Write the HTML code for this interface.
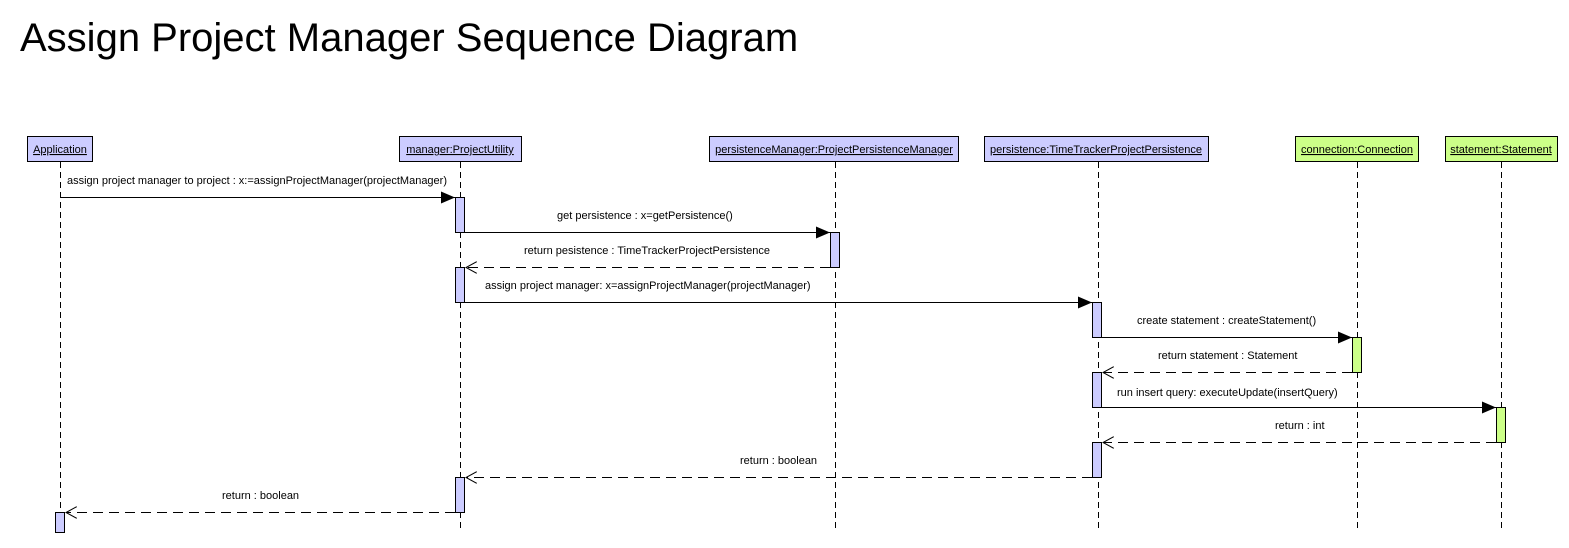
<!DOCTYPE html>
<html><head><meta charset="utf-8"><style>
body{margin:0;background:#fff;width:1569px;height:543px;overflow:hidden;font-family:"Liberation Sans",sans-serif}
</style></head><body>
<svg width="1569" height="543" xmlns="http://www.w3.org/2000/svg" font-family="Liberation Sans, sans-serif">
<defs>
<marker id="f" markerWidth="14" markerHeight="12" refX="14" refY="6" orient="auto" markerUnits="userSpaceOnUse"><path d="M0,0 L14,6 L0,12 z" fill="#000"/></marker>
<marker id="o" markerWidth="12" markerHeight="12" refX="11" refY="6" orient="auto" markerUnits="userSpaceOnUse"><path d="M0,0 L11,6 L0,12" fill="none" stroke="#000"/></marker>
</defs>
<text x="20" y="51" font-size="40">Assign Project Manager Sequence Diagram</text>
<g stroke="#000" stroke-dasharray="6,4" stroke-width="1">
<line x1="60.5" y1="162" x2="60.5" y2="532"/>
<line x1="460.5" y1="162" x2="460.5" y2="532"/>
<line x1="835.5" y1="162" x2="835.5" y2="532"/>
<line x1="1098.5" y1="162" x2="1098.5" y2="532"/>
<line x1="1357.5" y1="162" x2="1357.5" y2="532"/>
<line x1="1501.5" y1="162" x2="1501.5" y2="532"/>
</g>
<g stroke="#000" font-size="11" text-anchor="middle" text-decoration="underline">
<rect x="27.5" y="136.5" width="65" height="25" fill="#ccccff"/>
<rect x="399.5" y="136.5" width="122" height="25" fill="#ccccff"/>
<rect x="709.5" y="136.5" width="249" height="25" fill="#ccccff"/>
<rect x="984.5" y="136.5" width="224" height="25" fill="#ccccff"/>
<rect x="1295.5" y="136.5" width="123" height="25" fill="#ccff88"/>
<rect x="1445.5" y="136.5" width="112" height="25" fill="#ccff88"/>
</g>
<g font-size="11" text-anchor="middle" text-decoration="underline" fill="#000">
<text x="60" y="153">Application</text>
<text x="460" y="153">manager:ProjectUtility</text>
<text x="834" y="153">persistenceManager:ProjectPersistenceManager</text>
<text x="1096" y="153">persistence:TimeTrackerProjectPersistence</text>
<text x="1357" y="153">connection:Connection</text>
<text x="1501" y="153">statement:Statement</text>
</g>
<g stroke="#000" stroke-width="1">
<rect x="455.5" y="197.5" width="9" height="35" fill="#ccccff"/>
<rect x="455.5" y="267.5" width="9" height="35" fill="#ccccff"/>
<rect x="455.5" y="477.5" width="9" height="35" fill="#ccccff"/>
<rect x="830.5" y="232.5" width="9" height="35" fill="#ccccff"/>
<rect x="1092.5" y="302.5" width="9" height="35" fill="#ccccff"/>
<rect x="1092.5" y="372.5" width="9" height="35" fill="#ccccff"/>
<rect x="1092.5" y="442.5" width="9" height="35" fill="#ccccff"/>
<rect x="55.5" y="512.5" width="9" height="20" fill="#ccccff"/>
<rect x="1352.5" y="337.5" width="9" height="35" fill="#ccff88"/>
<rect x="1496.5" y="407.5" width="9" height="35" fill="#ccff88"/>
</g>
<g stroke="#000" stroke-width="1">
<line x1="60" y1="197.5" x2="455" y2="197.5" marker-end="url(#f)"/>
<line x1="465" y1="232.5" x2="830" y2="232.5" marker-end="url(#f)"/>
<line x1="465" y1="302.5" x2="1092" y2="302.5" marker-end="url(#f)"/>
<line x1="1102" y1="337.5" x2="1352" y2="337.5" marker-end="url(#f)"/>
<line x1="1102" y1="407.5" x2="1496" y2="407.5" marker-end="url(#f)"/>
<g stroke-dasharray="10,6">
<line x1="830" y1="267.5" x2="466" y2="267.5" marker-end="url(#o)"/>
<line x1="1352" y1="372.5" x2="1103" y2="372.5" marker-end="url(#o)"/>
<line x1="1496" y1="442.5" x2="1103" y2="442.5" marker-end="url(#o)"/>
<line x1="1092" y1="477.5" x2="466" y2="477.5" marker-end="url(#o)"/>
<line x1="455" y1="512.5" x2="66" y2="512.5" marker-end="url(#o)"/>
</g>
</g>
<g font-size="11" fill="#000">
<text x="67" y="184">assign project manager to project : x:=assignProjectManager(projectManager)</text>
<text x="557" y="219">get persistence : x=getPersistence()</text>
<text x="524" y="254">return pesistence : TimeTrackerProjectPersistence</text>
<text x="485" y="289">assign project manager: x=assignProjectManager(projectManager)</text>
<text x="1137" y="324">create statement : createStatement()</text>
<text x="1158" y="359">return statement : Statement</text>
<text x="1117" y="396">run insert query: executeUpdate(insertQuery)</text>
<text x="1275" y="429">return : int</text>
<text x="740" y="464">return : boolean</text>
<text x="222" y="499">return : boolean</text>
</g>
</svg>
</body></html>
